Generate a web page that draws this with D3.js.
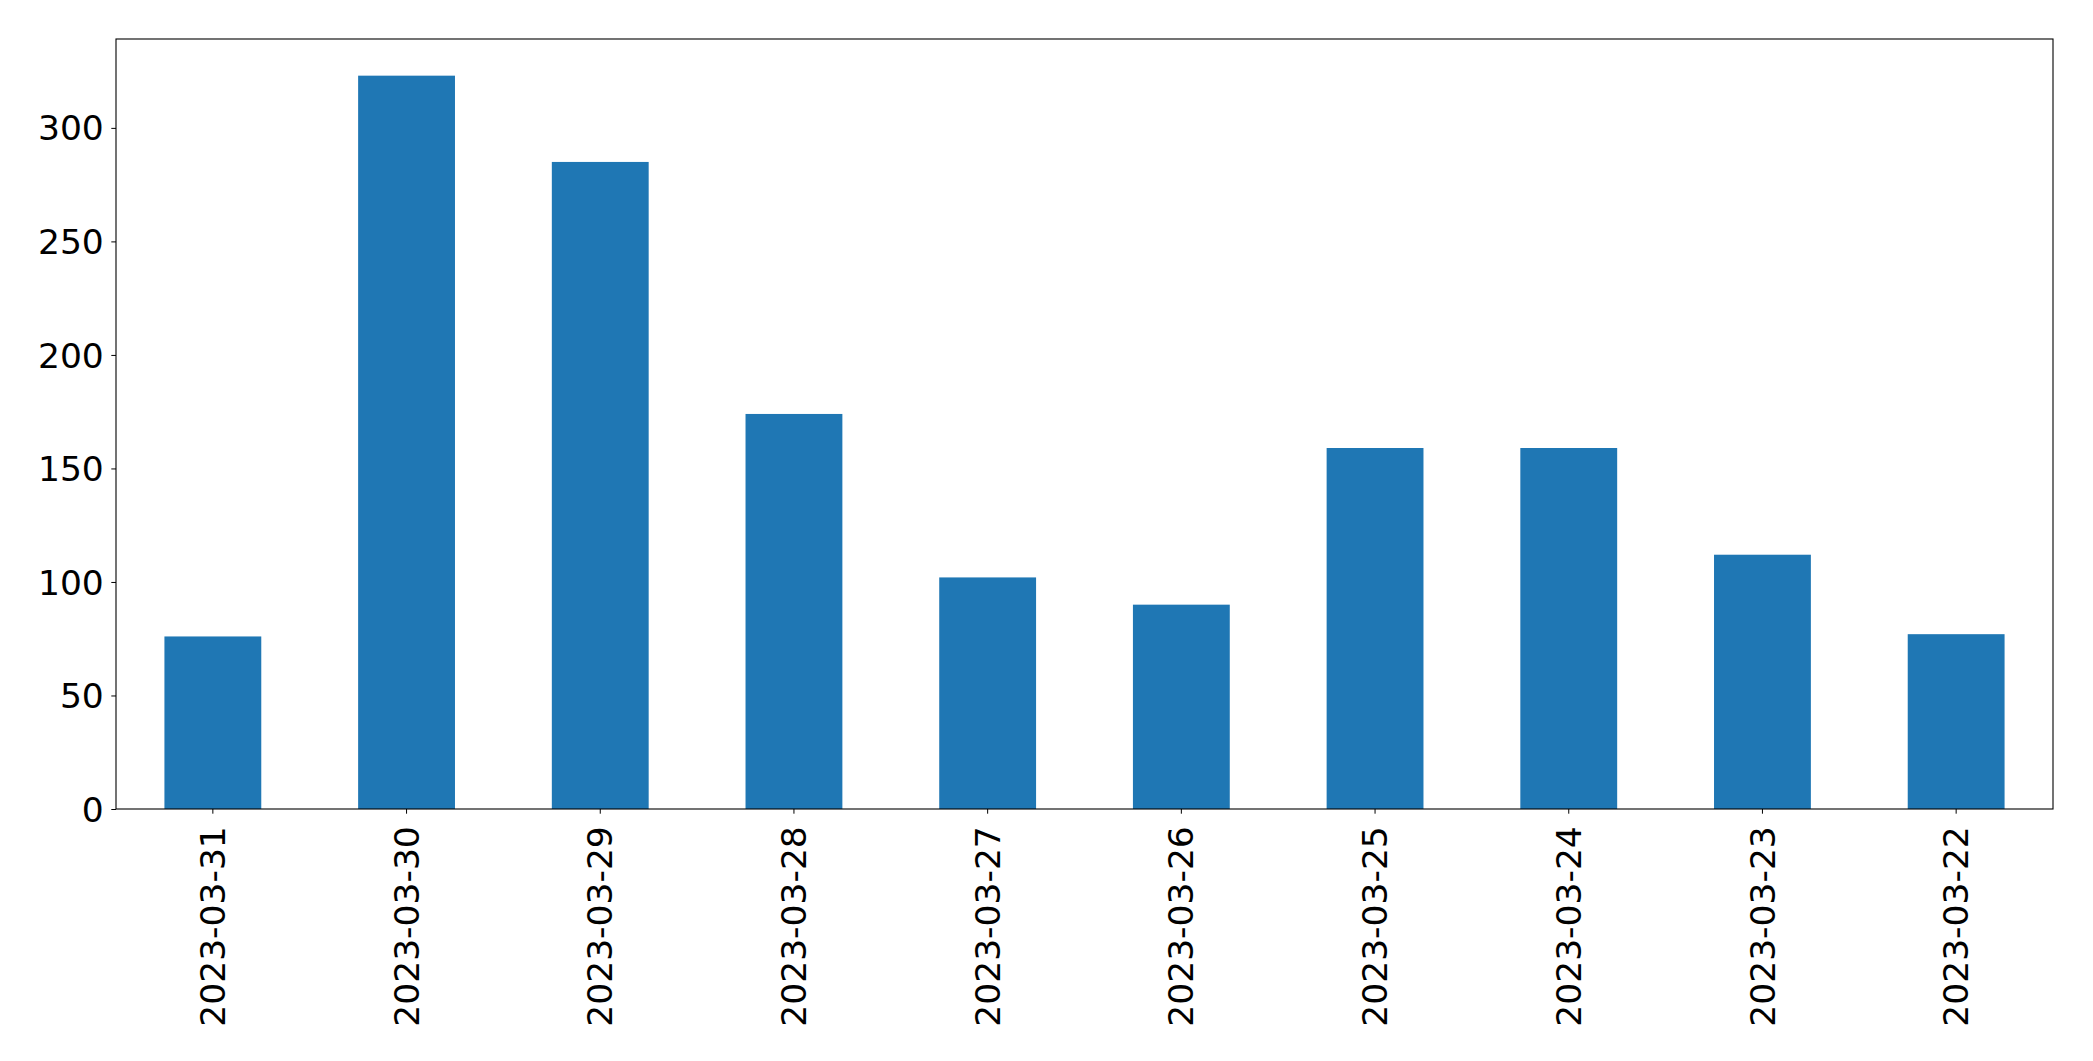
<!DOCTYPE html>
<html>
<head>
<meta charset="utf-8">
<script src="https://cdn.jsdelivr.net/npm/d3@7"></script>
<style>
  html, body { margin: 0; padding: 0; background: #fff; }
  svg { display: block; }
  text { font-family: "DejaVu Sans", sans-serif; fill: #000; }
</style>
</head>
<body>
<svg id="chart" width="2093" height="1061"></svg>
<script>
const categories = ["2023-03-31","2023-03-30","2023-03-29","2023-03-28","2023-03-27","2023-03-26","2023-03-25","2023-03-24","2023-03-23","2023-03-22"];
const values = [76, 323, 285, 174, 102, 90, 159, 159, 112, 77];
const yTicks = [0, 50, 100, 150, 200, 250, 300];

const W = 2093, H = 1061;
const margin = { left: 116, right: W - 2053, top: 39, bottom: H - 809 };
const svg = d3.select("#chart");
const innerW = W - margin.left - margin.right;
const innerH = H - margin.top - margin.bottom;
const g = svg.append("g").attr("transform", `translate(${margin.left},${margin.top})`);

const x = d3.scaleBand().domain(categories).range([0, innerW]).paddingInner(0.5).paddingOuter(0.25);
const y = d3.scaleLinear().domain([0, d3.max(values) * 1.05]).range([innerH, 0]);

g.selectAll("rect.bar").data(categories).enter().append("rect")
  .attr("class", "bar")
  .attr("x", d => x(d))
  .attr("width", x.bandwidth())
  .attr("y", (d, i) => y(values[i]))
  .attr("height", (d, i) => y(0) - y(values[i]))
  .attr("fill", "#1f77b4");

const fs = 34.5;
const yAxis = g.append("g").call(d3.axisLeft(y).tickValues(yTicks).tickSize(4.7).tickPadding(7.5).tickFormat(d3.format("d")));
yAxis.select(".domain").remove();
yAxis.selectAll("text").style("font-size", fs + "px").attr("dy", "0.35em");
yAxis.selectAll("line").attr("stroke", "#000").attr("stroke-width", 1);

const xAxis = g.append("g").attr("transform", `translate(0,${innerH})`)
  .call(d3.axisBottom(x).tickSize(4.7).tickPadding(0));
xAxis.select(".domain").remove();
xAxis.selectAll("line").attr("stroke", "#000").attr("stroke-width", 1);
xAxis.selectAll("text")
  .style("font-size", fs + "px")
  .attr("text-anchor", "end")
  .attr("transform", "translate(0,17.2) rotate(-90)")
  .attr("x", 0).attr("y", 0).attr("dy", "0.35em");

// frame
g.append("rect").attr("x", 0).attr("y", 0).attr("width", innerW).attr("height", innerH)
  .attr("fill", "none").attr("stroke", "#000").attr("stroke-width", 1.1);
</script>
</body>
</html>
